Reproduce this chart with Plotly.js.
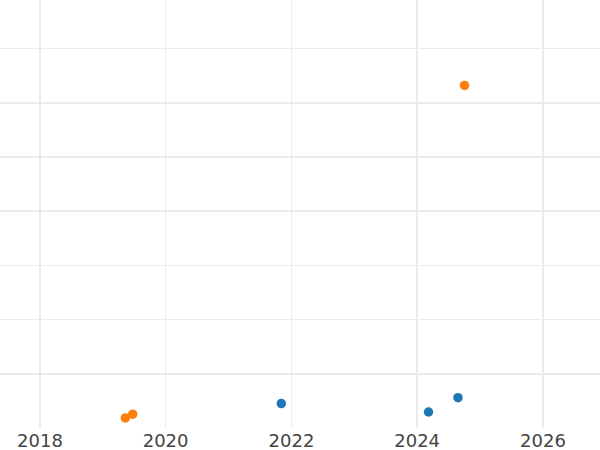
<!DOCTYPE html>
<html>
<head>
<meta charset="utf-8">
<script src="https://cdn.plot.ly/plotly-3.0.1.min.js"></script>
<style>html,body{margin:0;padding:0;background:#fff;}#chart{width:600px;height:450px;}</style>
</head>
<body>
<div id="chart"></div>
<script>
const blueDates = ['2021-11-03', '2024-03-07', '2024-08-25'];
const blueValues = [4.5, 2.95, 5.6];
const orangeDates = ['2019-05-12', '2019-06-24', '2024-10-02'];
const orangeValues = [1.85, 2.55, 63.2];
const xTickVals = ['2018-01-01', '2020-01-01', '2022-01-01', '2024-01-01', '2026-01-01'];
const xTickText = ['2018', '2020', '2022', '2024', '2026'];

const traces = [
  {x: blueDates, y: blueValues, type: 'scatter', mode: 'markers',
   marker: {color: '#1f77b4', size: 9.5}, showlegend: false},
  {x: orangeDates, y: orangeValues, type: 'scatter', mode: 'markers',
   marker: {color: '#ff7f0e', size: 9.5}, showlegend: false}
];

const layout = {
  width: 600, height: 450,
  margin: {l: 0, r: 0, t: 0, b: 22, pad: 0},
  paper_bgcolor: '#ffffff', plot_bgcolor: '#ffffff',
  showlegend: false,
  xaxis: {
    type: 'date', range: ['2017-05-14', '2026-11-28'],
    tickvals: xTickVals, ticktext: xTickText,
    showgrid: true, gridcolor: '#ebebeb', gridwidth: 1.5,
    zeroline: false, showline: false, ticks: '',
    tickfont: {family: 'DejaVu Sans', size: 18, color: '#444444'}
  },
  yaxis: {
    range: [0, 78.97], dtick: 10, tick0: 0,
    showticklabels: false, showgrid: true, gridcolor: '#ebebeb', gridwidth: 1.5,
    zeroline: false, showline: false, ticks: ''
  }
};

Plotly.newPlot('chart', traces, layout, {displayModeBar: false, staticPlot: true});
</script>
</body>
</html>
